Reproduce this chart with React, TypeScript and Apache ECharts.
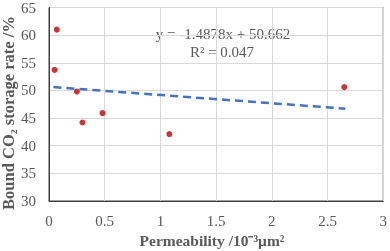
import React, { useEffect, useRef } from "react";
import * as echarts from "echarts";

const permeability = [0.05, 0.07, 0.25, 0.3, 0.48, 1.08, 2.65];
const storageRate = [53.7, 61.0, 49.8, 44.2, 45.9, 42.1, 50.6];
const trendX = [0.04, 2.66];
const trendY = [50.6, 46.7];
const equationText = "y = -1.4878x + 50.662";
const r2Text = "R² = 0.047";
const xTitle = "Permeability /10⁻³μm²";
const yTitle = "Bound CO₂ storage rate /%";

export default function App() {
  const ref = useRef<HTMLDivElement>(null);
  useEffect(() => {
    document.body.style.margin = "0";
    const chart = echarts.init(ref.current!, null, { renderer: "svg" });
    const font = "Liberation Serif";
    const gray = "#595959";
    chart.setOption({
      animation: false,
      grid: {
        left: 49,
        right: 4,
        top: 6,
        bottom: 50,
        show: true,
        borderColor: "#404040",
        borderWidth: 1,
      },
      xAxis: {
        type: "value",
        min: 0,
        max: 3,
        interval: 0.5,
        axisLine: { show: true, lineStyle: { color: "#404040" } },
        axisTick: { show: false },
        axisLabel: { fontFamily: font, fontSize: 15, color: gray, margin: 12 },
        splitLine: { show: true, lineStyle: { color: "#d9d9d9" } },
      },
      yAxis: {
        type: "value",
        min: 30,
        max: 65,
        interval: 5,
        axisLine: { show: true, lineStyle: { color: "#404040" } },
        axisTick: { show: false },
        axisLabel: { fontFamily: font, fontSize: 15, color: gray, margin: 13 },
        splitLine: { show: true, lineStyle: { color: "#d9d9d9" } },
      },
      graphic: [
        {
          type: "text",
          x: 223,
          y: 34,
          style: {
            text: equationText,
            fontFamily: font,
            fontSize: 15,
            fill: gray,
            align: "center",
            verticalAlign: "middle",
          },
        },
        {
          type: "text",
          x: 222,
          y: 52,
          style: {
            text: r2Text,
            fontFamily: font,
            fontSize: 15,
            fill: gray,
            align: "center",
            verticalAlign: "middle",
          },
        },
        {
          type: "text",
          x: 212,
          y: 240,
          style: {
            text: xTitle,
            fontFamily: font,
            fontSize: 15.5,
            fontWeight: "bold",
            fill: gray,
            align: "center",
            verticalAlign: "middle",
          },
        },
        {
          type: "text",
          x: 8,
          y: 113,
          rotation: Math.PI / 2,
          style: {
            text: yTitle,
            fontFamily: font,
            fontSize: 16.5,
            fontWeight: "bold",
            fill: gray,
            align: "center",
            verticalAlign: "middle",
          },
        },
      ],
      series: [
        {
          type: "line",
          data: trendX.map((x, i) => [x, trendY[i]]),
          symbol: "none",
          lineStyle: { color: "#4472c4", width: 2.5, type: [8, 5] },
          z: 2,
        },
        {
          type: "scatter",
          data: permeability.map((x, i) => [x, storageRate[i]]),
          symbol: "circle",
          symbolSize: 6,
          itemStyle: { color: "#c00000" },
          z: 3,
        },
      ],
    });
    return () => chart.dispose();
  }, []);
  return <div ref={ref} style={{ width: 390, height: 251, position: "fixed", left: 0, top: 0 }} />;
}
